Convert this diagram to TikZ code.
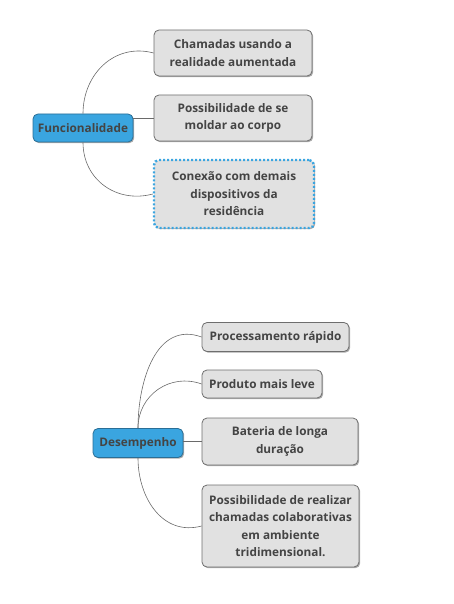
\documentclass[tikz,border=0pt]{standalone}
\usepackage{fontspec}
\setmainfont{Open Sans}
\usetikzlibrary{shadows}
\definecolor{boxfill}{HTML}{E1E1E1}
\definecolor{boxline}{HTML}{6E6E6E}
\definecolor{txt}{HTML}{444444}
\definecolor{bluefill}{HTML}{3AA5E0}
\definecolor{blueline}{HTML}{2A6E96}
\definecolor{dotblue}{HTML}{3AA5E0}
\definecolor{linkc}{HTML}{6A6A6A}
\tikzset{
  base/.style={rounded corners=5pt, inner sep=0pt, align=center,
    font=\fontsize{11.8}{17.5}\selectfont\bfseries, text=txt,
    drop shadow={shadow xshift=1.2pt, shadow yshift=-1.2pt, fill=black!55, opacity=0.6}},
  leaf/.style={base, fill=boxfill, draw=boxline, line width=0.8pt},
  dotleaf/.style={base, fill=boxfill, draw=dotblue, line width=2.4pt, dash pattern=on 2pt off 2pt},
  root/.style={base, fill=bluefill, draw=blueline, line width=0.8pt},
  link/.style={draw=linkc, line width=0.6pt}
}
\begin{document}
\begin{tikzpicture}[x=1pt,y=-1pt]
\useasboundingbox (0,0) rectangle (454,604);
% Group 1
\node[root, minimum width=100pt, minimum height=28pt] (f) at (83,128) {Funcionalidade};
\node[leaf, minimum width=158pt, minimum height=46pt] (f1) at (233,53) {Chamadas usando a\\realidade aumentada};
\node[leaf, minimum width=158pt, minimum height=46pt] (f2) at (233,118) {Possibilidade de se\\moldar ao corpo};
\node[dotleaf, minimum width=160pt, minimum height=68pt] (f3) at (234,194) {Conexão com demais\\dispositivos da\\residência};
\draw[link] (f.north) to[out=90, in=165, looseness=1.1] (f1.west);
\draw[link] (f.east |- f2.west) -- (f2.west);
\draw[link] (f.south) to[out=-90, in=195, looseness=1.1] (f3.west);
% Group 2
\node[root, minimum width=90pt, minimum height=29pt] (d) at (138,443) {Desempenho};
\node[leaf, minimum width=147pt, minimum height=29pt] (d1) at (275.5,337) {Processamento rápido};
\node[leaf, minimum width=120pt, minimum height=28pt] (d2) at (262,384) {Produto mais leve};
\node[leaf, minimum width=156pt, minimum height=47pt] (d3) at (280,441.5) {Bateria de longa\\duração};
\node[leaf, minimum width=157pt, minimum height=82pt] (d4) at (280.5,526) {Possibilidade de realizar\\chamadas colaborativas\\em ambiente\\tridimensional.};
\draw[link] (d.north) to[out=90, in=160, looseness=1.1] (d1.west);
\draw[link] (d.north) to[out=90, in=160, looseness=1.1] (d2.west);
\draw[link] (d.east |- d3.west) -- (d3.west);
\draw[link] (d.south) to[out=-90, in=195, looseness=1.1] (d4.west);
\end{tikzpicture}
\end{document}
